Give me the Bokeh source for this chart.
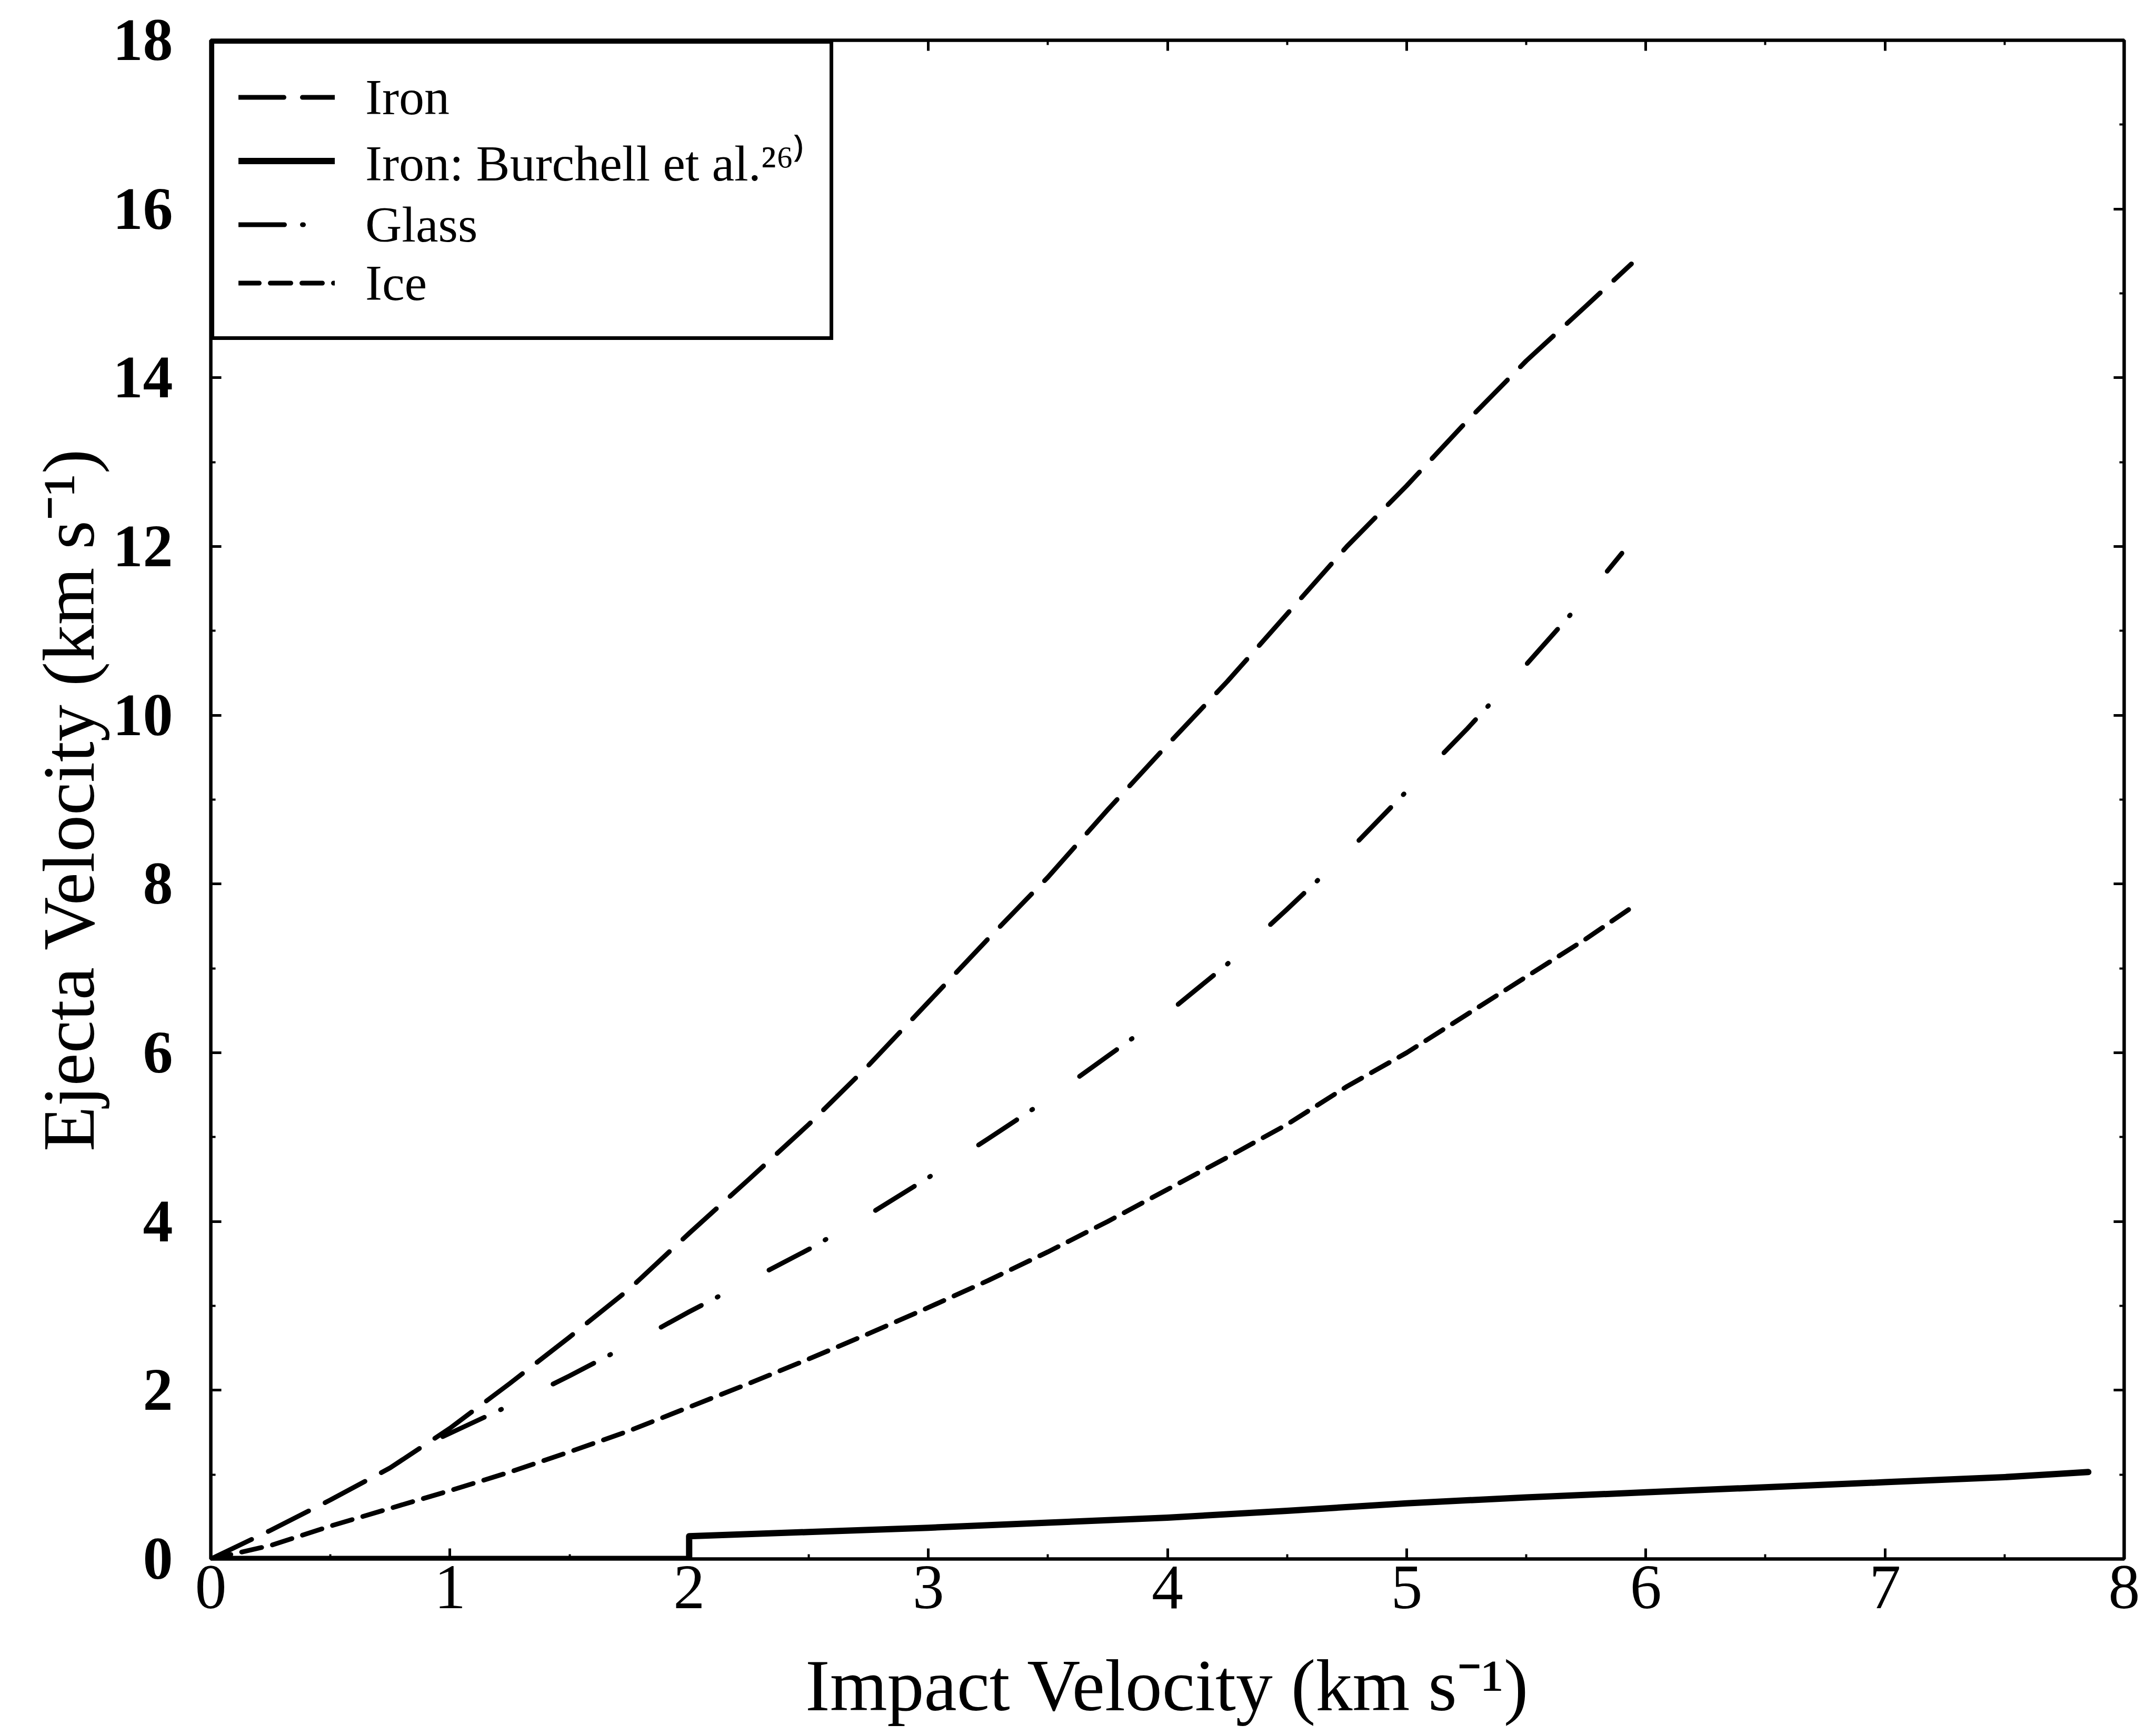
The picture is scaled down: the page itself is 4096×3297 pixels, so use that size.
from bokeh.plotting import figure
from bokeh.models import LinearAxis, Range1d, FixedTicker, Legend, LegendItem
from bokeh.embed import file_html
from bokeh.resources import INLINE

# ---- data ----
impact_iron = [0, 0.25, 0.5, 0.75, 1.0, 1.25, 1.5, 1.75, 2.0, 2.25, 2.5, 2.75, 3.0,
               3.25, 3.5, 3.75, 4.0, 4.25, 4.5, 4.75, 5.0, 5.25, 5.5, 5.75, 5.94]
ejecta_iron = [0, 0.34, 0.70, 1.08, 1.55, 2.08, 2.63, 3.2, 3.86, 4.5, 5.15, 5.85, 6.6,
               7.35, 8.08, 8.88, 9.65, 10.4, 11.2, 12.0, 12.72, 13.48, 14.2, 14.85, 15.35]

impact_glass = [0.97, 1.25, 1.5, 1.75, 2.0, 2.25, 2.5, 2.75, 3.0, 3.25, 3.5, 3.75, 4.0,
                4.25, 4.5, 4.75, 5.0, 5.25, 5.5, 5.75, 5.9]
ejecta_glass = [1.45, 1.82, 2.17, 2.54, 2.93, 3.3, 3.67, 4.08, 4.52, 4.98, 5.45, 5.96, 6.47,
                7.05, 7.7, 8.37, 9.1, 9.83, 10.6, 11.4, 11.92]

impact_ice = [0, 0.25, 0.5, 0.75, 1.0, 1.25, 1.5, 1.75, 2.0, 2.25, 2.5, 2.75, 3.0,
              3.25, 3.5, 3.75, 4.0, 4.25, 4.5, 4.75, 5.0, 5.25, 5.5, 5.75, 5.93]
ejecta_ice = [0, 0.16, 0.39, 0.60, 0.81, 1.03, 1.27, 1.52, 1.80, 2.08, 2.37, 2.67, 2.98,
              3.3, 3.64, 4.0, 4.38, 4.76, 5.15, 5.6, 6.0, 6.45, 6.9, 7.35, 7.7]

impact_burchell = [0, 2.0, 2.0, 2.5, 3.0, 3.5, 4.0, 4.5, 5.0, 5.5, 6.0, 6.5, 7.0, 7.5, 7.85]
ejecta_burchell = [0, 0, 0.27, 0.32, 0.37, 0.43, 0.49, 0.57, 0.66, 0.73, 0.79, 0.85, 0.91, 0.97, 1.03]

x_major_ticks = [0, 1, 2, 3, 4, 5, 6, 7, 8]
x_minor_ticks = [0.5, 1.5, 2.5, 3.5, 4.5, 5.5, 6.5, 7.5]
y_major_ticks = [0, 2, 4, 6, 8, 10, 12, 14, 16, 18]
y_minor_ticks = [1, 3, 5, 7, 9, 11, 13, 15, 17]

series_labels = ["Iron", "Iron: Burchell et al.\u00b2\u2076\u207e", "Glass", "Ice"]
x_title = "Impact Velocity (km s\u207b\u00b9)"
y_title = "Ejecta Velocity (km s\u207b\u00b9)"

SERIF = "Liberation Serif"

p = figure(width=4096, height=3297, output_backend="svg", toolbar_location=None,
           x_range=Range1d(0, 8), y_range=Range1d(0, 18),
           x_axis_type=None, y_axis_type=None,
           min_border_left=400, min_border_right=61, min_border_top=76, min_border_bottom=335)
p.outline_line_color = "black"
p.outline_line_width = 6
p.background_fill_color = "white"
p.border_fill_color = "white"


def make_axis(ticks, minor):
    ax = LinearAxis(ticker=FixedTicker(ticks=ticks, minor_ticks=minor))
    ax.axis_line_width = 6
    ax.axis_line_color = "black"
    ax.major_tick_in = 20
    ax.major_tick_out = 0
    ax.minor_tick_in = 9
    ax.minor_tick_out = 0
    ax.major_tick_line_width = 5
    ax.minor_tick_line_width = 4
    ax.major_label_text_color = "black"
    ax.major_label_text_font = SERIF
    return ax


xb = make_axis(x_major_ticks, x_minor_ticks)
xb.major_label_text_font_size = "120px"
xb.major_label_standoff = 14
xb.axis_label = x_title
xb.axis_label_text_font = SERIF
xb.axis_label_text_font_size = "140px"
xb.axis_label_text_font_style = "normal"
xb.axis_label_text_color = "black"
xb.axis_label_standoff = 66
p.add_layout(xb, "below")

yl = make_axis(y_major_ticks, y_minor_ticks)
yl.major_label_text_font_size = "114px"
yl.major_label_text_font_style = "bold"
yl.major_label_standoff = 72
yl.axis_label = y_title
yl.axis_label_text_font = SERIF
yl.axis_label_text_font_size = "140px"
yl.axis_label_text_font_style = "normal"
yl.axis_label_text_color = "black"
yl.axis_label_standoff = 4
p.add_layout(yl, "left")

# mirrored tick marks on the top and right edges, without labels
xt = make_axis(x_major_ticks, x_minor_ticks)
xt.major_label_text_font_size = "1px"
xt.major_label_text_color = None
xt.major_label_standoff = 0
p.add_layout(xt, "above")

yr = make_axis(y_major_ticks, y_minor_ticks)
yr.major_label_text_font_size = "1px"
yr.major_label_text_color = None
yr.major_label_standoff = 0
p.add_layout(yr, "right")

common = dict(line_color="black", line_cap="round", line_join="round")
r_iron = p.line(impact_iron, ejecta_iron, line_width=9, line_dash="86 35", **common)
r_burch = p.line(impact_burchell, ejecta_burchell, line_width=12, **common)
r_glass = p.line(impact_glass, ejecta_glass, line_width=9, line_dash="87 34 2 109", **common)
r_ice = p.line(impact_ice, ejecta_ice, line_width=9, line_dash="39 21", **common)

legend = Legend(
    items=[LegendItem(label=series_labels[0], renderers=[r_iron]),
           LegendItem(label=series_labels[1], renderers=[r_burch]),
           LegendItem(label=series_labels[2], renderers=[r_glass]),
           LegendItem(label=series_labels[3], renderers=[r_ice])],
    location="top_left", margin=0, padding=46, spacing=-3,
    glyph_width=183, glyph_height=95, label_height=95, label_standoff=58,
    label_text_font=SERIF, label_text_font_size="96px", label_text_color="black",
    label_text_line_height=0.9,
    border_line_color="black", border_line_width=7, border_line_alpha=1.0,
    background_fill_color="white", background_fill_alpha=1.0,
)
p.add_layout(legend)

open("out.html", "w").write(file_html(p, INLINE, title="Ejecta velocity"))
